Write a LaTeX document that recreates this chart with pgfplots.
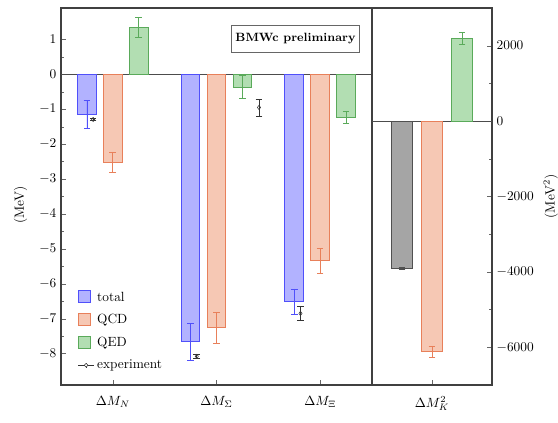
\documentclass[border=0pt]{standalone}
\usepackage{pgfplots}
\pgfplotsset{compat=1.18}
\definecolor{totf}{RGB}{178,178,255}
\definecolor{totd}{RGB}{80,80,250}
\definecolor{qcdf}{RGB}{246,200,180}
\definecolor{qcdd}{RGB}{232,128,90}
\definecolor{qedf}{RGB}{178,222,178}
\definecolor{qedd}{RGB}{90,170,90}
\definecolor{grf}{RGB}{165,165,165}
\definecolor{grd}{RGB}{80,80,80}
\pgfplotsset{
  barsty/.style={ybar, bar width=0.18, bar shift=0pt, line width=0.8pt,
    error bars/y dir=both, error bars/y explicit,
    error bars/error bar style={line width=0.5pt, mark size=2.5pt}},
  sqlegend/.style={legend image code/.code={\draw[##1,/tikz/.cd] (0pt,-4pt) rectangle (9pt,5pt);}},
  common/.style={scale only axis, height=282.75pt,
    axis line style={black!75, line width=0.8pt},
    major tick length=4pt, minor tick length=2.5pt,
    tick style={black!60},
    xtick pos=bottom,
    xticklabel style={yshift=-5pt},
    /pgf/number format/1000 sep={}},
}
\begin{document}
\begin{tikzpicture}
\path[use as bounding box] (-45.75pt,-28.5pt) rectangle (372.75pt,288.75pt);
\begin{axis}[common, at={(0pt,0pt)}, anchor=south west, width=233.25pt,
  xmin=-0.5, xmax=2.5, ymin=-8.9, ymax=1.9,
  xtick={0,1,2}, xticklabels={$\Delta M_N$,$\Delta M_\Sigma$,$\Delta M_\Xi$},
  ytick={-8,-7,-6,-5,-4,-3,-2,-1,0,1}, minor y tick num=1, ytick pos=left,
  ylabel={(MeV)}, ylabel style={at={(axis description cs:-0.13,0.477)}, anchor=center},
  legend style={draw=none, fill=none, at={(rel axis cs:0.04,0.262)}, anchor=north west,
    row sep=4.5pt, font=\normalsize},
  legend cell align=left]
\addplot[forget plot, black!70, line width=0.8pt] coordinates {(-0.5,0) (2.5,0)};
\addplot[barsty, sqlegend, draw=totd, fill=totf, error bars/error bar style={totd}]
  coordinates {(-0.25,-1.15) +- (0,0.40) (0.75,-7.66) +- (0,0.53) (1.75,-6.51) +- (0,0.36)};
\addlegendentry{total}
\addplot[barsty, sqlegend, draw=qcdd, fill=qcdf, error bars/error bar style={qcdd}]
  coordinates {(0,-2.52) +- (0,0.30) (1,-7.26) +- (0,0.44) (2,-5.34) +- (0,0.35)};
\addlegendentry{QCD}
\addplot[barsty, sqlegend, draw=qedd, fill=qedf, error bars/error bar style={qedd}]
  coordinates {(0.25,1.34) +- (0,0.28) (1.25,-0.37) +- (0,0.33) (2.25,-1.23) +- (0,0.16)};
\addlegendentry{QED}
\addplot[only marks, black!80, mark=diamond, mark size=1.6pt,
  error bars/y dir=both, error bars/y explicit,
  error bars/error bar style={black!80, line width=0.5pt, mark size=2.5pt},
  legend image code/.code={\draw[black!80, line width=0.5pt] (0pt,0pt) -- (12pt,0pt);
    \draw[black!80, line width=0.5pt] (6pt,-2pt) -- (6pt,2pt);
    \draw[black!80, line width=0.4pt, fill=white] (6pt,1.4pt) -- (7.4pt,0pt) -- (6pt,-1.4pt) -- (4.6pt,0pt) -- cycle;}]
  coordinates {(-0.19,-1.293) +- (0,0.03) (0.81,-8.08) +- (0,0.05) (1.81,-6.85) +- (0,0.21) (1.41,-0.95) +- (0,0.24)};
\addlegendentry{experiment}
\node[draw=black!60, fill=white, inner xsep=3pt, inner ysep=6pt,
  font=\bfseries\fontsize{9}{11}\selectfont] at (rel axis cs:0.754,0.918) {BMWc preliminary};
\end{axis}
\begin{axis}[common, at={(233.25pt,0pt)}, anchor=south west, width=90pt,
  xmin=-0.5, xmax=0.5, ymin=-7000, ymax=3000,
  xtick={0}, xticklabels={$\Delta M^{2}_{K}$},
  ytick={-6000,-4000,-2000,0,2000}, minor y tick num=1,
  ytick pos=right, yticklabel pos=right,
  ylabel={(MeV$^2$)}, ylabel style={at={(axis description cs:1.49,0.5)}, anchor=center}]
\addplot[forget plot, black!70, line width=0.8pt] coordinates {(-0.5,0) (0.5,0)};
\addplot[barsty, draw=grd, fill=grf, error bars/error bar style={grd}]
  coordinates {(-0.25,-3903) +- (0,15)};
\addplot[barsty, draw=qcdd, fill=qcdf, error bars/error bar style={qcdd}]
  coordinates {(0,-6119) +- (0,155)};
\addplot[barsty, draw=qedd, fill=qedf, error bars/error bar style={qedd}]
  coordinates {(0.25,2195) +- (0,155)};
\end{axis}
\end{tikzpicture}
\end{document}
